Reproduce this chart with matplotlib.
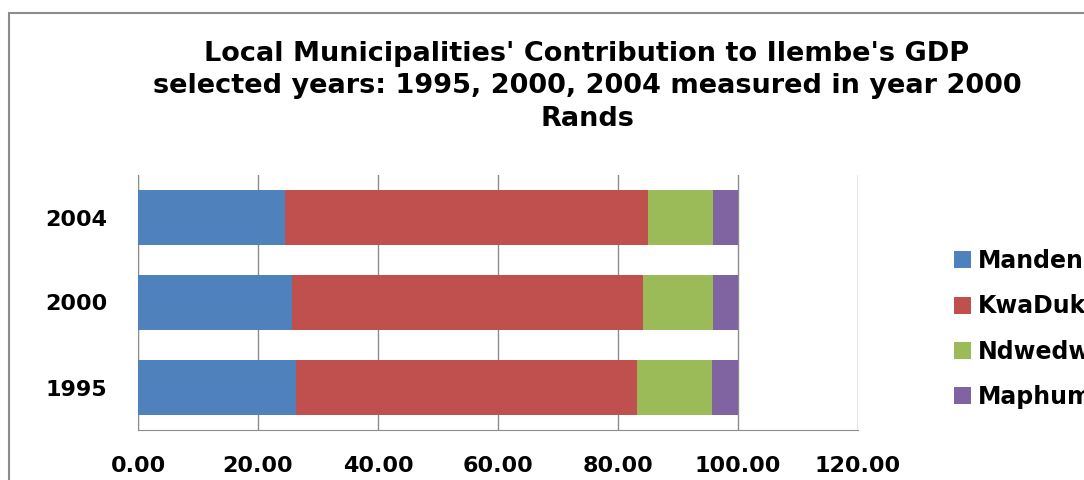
import numpy as np
import matplotlib
matplotlib.use("Agg")
import matplotlib.pyplot as plt
from matplotlib.patches import Rectangle

# contribution (%) of each local municipality to Ilembe's GDP
years = ["1995", "2000", "2004"]
mandeni = [26.4, 25.6, 24.5]
kwadukuza = [56.7, 58.5, 60.5]
ndwedwe = [12.6, 11.7, 10.8]
maphumulo = [4.3, 4.2, 4.2]

series = [("Mandeni", mandeni, "#4F81BD"),
          ("KwaDukuza", kwadukuza, "#C0504D"),
          ("Ndwedwe", ndwedwe, "#9BBB59"),
          ("Maphumulo", maphumulo, "#8064A2")]

plt.rcParams["font.family"] = ["DejaVu Sans"]

fig = plt.figure(figsize=(10.84, 4.8), dpi=100)
ax = fig.add_axes([138/1084, 50/480, 720/1084, 255/480])

ypos = np.arange(len(years))
left = np.zeros(len(years))
for name, vals, col in series:
    ax.barh(ypos, vals, left=left, height=0.64, color=col, label=name, zorder=3)
    left += np.array(vals)

ax.set_xlim(0, 120)
ax.set_ylim(-0.5, 2.5)
ax.set_xticks(np.arange(0, 121, 20))
ax.set_xticklabels([f"{v:.2f}" for v in np.arange(0, 121, 20)])
ax.set_yticks(ypos)
ax.set_yticklabels(years)
ax.grid(axis="x", color="#8c8c8c", lw=1.0)
ax.set_axisbelow(True)
for s in ["top", "right"]:
    ax.spines[s].set_visible(False)
for s in ["left", "bottom"]:
    ax.spines[s].set_color("#8c8c8c")
ax.tick_params(axis="x", length=0, pad=19, labelsize=16)
ax.tick_params(axis="y", length=0, pad=22, labelsize=16)
for lab in ax.get_xticklabels() + ax.get_yticklabels():
    lab.set_fontweight("bold")

fig.text(587/1084, 1 - 41/480,
         "Local Municipalities' Contribution to Ilembe's GDP\n"
         "selected years: 1995, 2000, 2004 measured in year 2000\nRands",
         ha="center", va="top", fontsize=19.5, fontweight="bold",
         linespacing=1.32)

leg = fig.legend(loc="center left", bbox_to_anchor=(954/1084, 1 - 329/480),
                 frameon=False, fontsize=17, handlelength=0.72,
                 handleheight=0.72, handletextpad=0.28, labelspacing=0.9,
                 borderpad=0, borderaxespad=0)
for t in leg.get_texts():
    t.set_fontweight("bold")

# chart area border
fig.patches.append(Rectangle((9/1084, -0.1), 1.2, 1.1 - 13/480,
                             transform=fig.transFigure, fill=False,
                             edgecolor="#8c8c8c", lw=1.5))

fig.savefig("out.png", dpi=100)
